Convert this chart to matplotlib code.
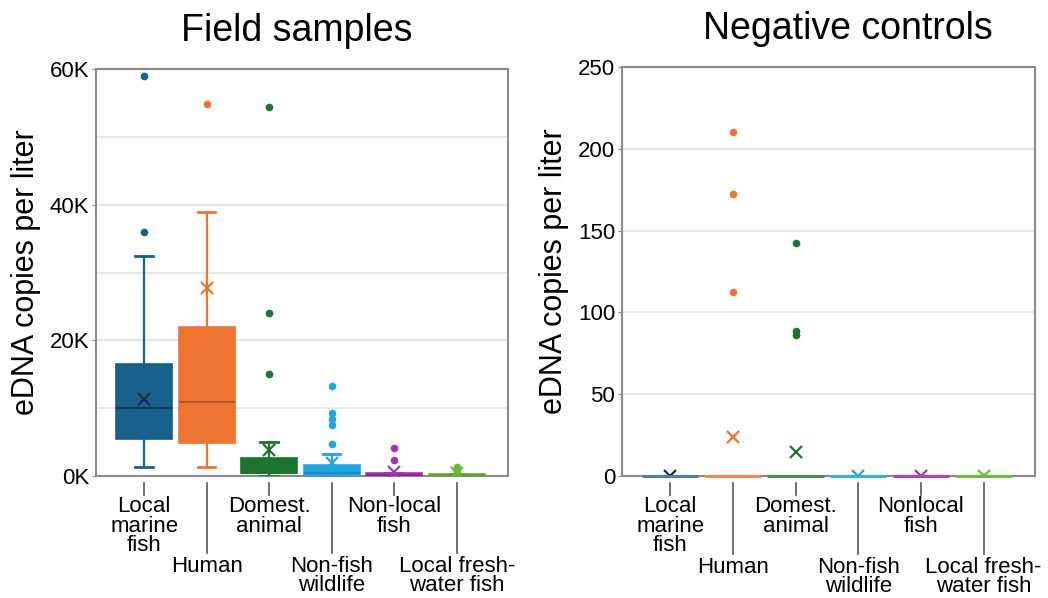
import matplotlib
matplotlib.use("Agg")
import matplotlib.pyplot as plt

plt.rcParams['font.family'] = ['Liberation Sans', 'DejaVu Sans']

categories_left = ["Local\nmarine\nfish", "Human", "Domest.\nanimal", "Non-fish\nwildlife",
                   "Non-local\nfish", "Local fresh-\nwater fish"]
categories_right = ["Local\nmarine\nfish", "Human", "Domest.\nanimal", "Non-fish\nwildlife",
                    "Nonlocal\nfish", "Local fresh-\nwater fish"]
colors = ["#18618c", "#ee7433", "#1d7430", "#22a4e0", "#a236b3", "#6bb83c"]
median_colors = ["#0c3b58", "#b9561f", "#1d7430", "#1b8cc4", "#8a2a9a", "#58a02e"]
mean_colors = ["#0d2f47", "#ee7433", "#1d7430", "#22a4e0", "#a236b3", "#6bb83c"]
flat_colors = ["#4f7f9f", "#f08a55", "#4a8a55", "#3aaee0", "#a846b6", "#73b84c"]

# Field samples (thousands of copies per liter)
field_whislo = [1.3, 1.4, 0.0, 0.0, 0.0, 0.0]
field_q1 = [5.5, 4.8, 0.4, 0.1, 0.0, 0.0]
field_med = [10.0, 10.9, 0.5, 0.5, 0.1, 0.1]
field_q3 = [16.5, 22.0, 2.6, 1.6, 0.4, 0.35]
field_whishi = [32.4, 38.9, 5.0, 3.3, 0.4, 0.35]
field_mean = [11.35, 27.7, 3.8, 1.9, 0.6, 0.5]
field_fliers = [[58.9, 36.0], [54.9], [54.4, 24.0, 15.0],
                [13.3, 9.3, 8.4, 7.5, 4.7], [4.1, 2.4], [1.3, 1.0, 0.8]]

# Negative controls (copies per liter)
neg_whislo = [0, 0, 0, 0, 0, 0]
neg_q1 = [0, 0, 0, 0, 0, 0]
neg_med = [0, 0, 0, 0, 0, 0]
neg_q3 = [0, 0, 0, 0, 0, 0]
neg_whishi = [0, 0, 0, 0, 0, 0]
neg_mean = [0, 23.6, 14.9, 0.3, 0.3, 0.3]
neg_fliers = [[], [210, 172.4, 112.7], [142.6, 88.8, 86.2], [], [], []]

left_yticks = [0, 20, 40, 60]
left_yticklabels = ["0K", "20K", "40K", "60K"]
right_yticks = [0, 50, 100, 150, 200, 250]

fig = plt.figure(figsize=(10.48, 5.98), dpi=100)
axL = fig.add_axes([0.0916, 0.204, 0.3931, 0.6806])
axR = fig.add_axes([0.5935, 0.204, 0.3941, 0.6840])


def draw(ax, whislo, q1, med, q3, whishi, mean, fliers, labels, flat=False):
    for i in range(6):
        st = [dict(whislo=whislo[i], q1=q1[i], med=med[i], q3=q3[i], whishi=whishi[i],
                   mean=mean[i], fliers=fliers[i])]
        c = colors[i]
        bc = flat_colors[i] if flat else c
        res = ax.bxp(st, positions=[i], widths=0.9, patch_artist=True, showmeans=True,
                     boxprops=dict(facecolor=bc, edgecolor=bc, linewidth=1.2),
                     medianprops=dict(color=median_colors[i] if not flat else bc,
                                      linewidth=2.2 if flat else 1.5),
                     whiskerprops=dict(color=c, linewidth=1.6),
                     capprops=dict(color=c, linewidth=2),
                     capwidths=0.28,
                     flierprops=dict(marker='o', markerfacecolor=c, markeredgecolor=c,
                                     markersize=4.5),
                     meanprops=dict(marker='x', markeredgecolor=mean_colors[i], markersize=9,
                                    markeredgewidth=1.6),
                     zorder=3)
        if flat:
            for key in ("boxes", "medians", "whiskers", "caps"):
                for a in res[key]:
                    a.set_visible(key in ("medians",))
                    a.set_clip_on(False)
                    a.set_zorder(4)
    ax.set_xlim(-0.77, 5.82)
    ax.set_xticks([])
    for sp in ax.spines.values():
        sp.set_color("#8a8a8a")
        sp.set_linewidth(1.5)
    ax.yaxis.grid(True, color="#e3e3e3", linewidth=1.2, which='both')
    ax.set_axisbelow(True)
    ax.tick_params(axis='y', labelsize=16, length=3, color="#8a8a8a", pad=2)
    ax.set_ylabel("eDNA copies per liter", fontsize=22, labelpad=6)
    tr = ax.get_xaxis_transform()
    for i, lab in enumerate(labels):
        if i % 2 == 0:
            ax.plot([i, i], [-0.017, -0.047], transform=tr, color="#555555", lw=1.2,
                    clip_on=False)
            ax.text(i, -0.05, lab, transform=tr, ha='center', va='top', fontsize=16,
                    linespacing=0.9)
        else:
            ax.plot([i, i], [-0.017, -0.19], transform=tr, color="#555555", lw=1.2,
                    clip_on=False)
            ax.text(i, -0.197, lab, transform=tr, ha='center', va='top', fontsize=16,
                    linespacing=0.88)


draw(axL, field_whislo, field_q1, field_med, field_q3, field_whishi, field_mean,
     field_fliers, categories_left)
axL.set_ylim(0, 60)
axL.set_yticks(left_yticks)
axL.set_yticklabels(left_yticklabels)
axL.set_yticks([10, 30, 50], minor=True)
axL.tick_params(axis='y', which='minor', length=0)
axL.set_title("Field samples", fontsize=27, pad=20, x=0.487)

draw(axR, neg_whislo, neg_q1, neg_med, neg_q3, neg_whishi, neg_mean,
     neg_fliers, categories_right, flat=True)
axR.set_ylim(0, 250)
axR.set_yticks(right_yticks)
axR.set_title("Negative controls", fontsize=27, pad=20, x=0.547)

fig.savefig("out.png", dpi=100)
